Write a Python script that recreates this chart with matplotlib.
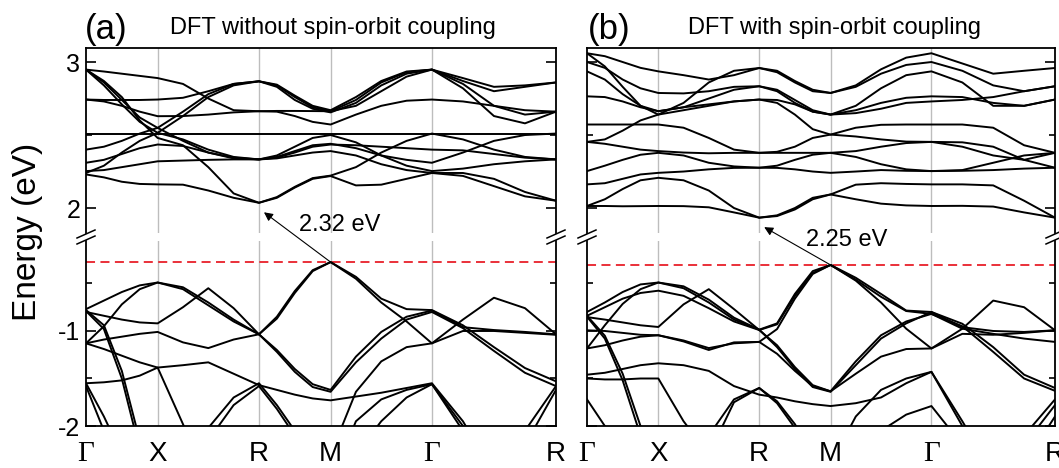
import matplotlib.pyplot as plt
import numpy as np
from matplotlib.patches import ConnectionPatch
from matplotlib.lines import Line2D

plt.rcParams['font.family'] = ['Liberation Sans', 'DejaVu Sans']
plt.rcParams['axes.unicode_minus'] = False

# k-path Gamma-X-R-M-Gamma-R, segment lengths in 2pi/a
k_labels = ['Γ', 'X', 'R', 'M', 'Γ', 'R']
seg_len = [0.5, 0.7071, 0.5, 0.7071, 0.8660]
n_per_seg = 4  # energies below read at 4 steps per segment (21 points per band)

# (a) no SOC, conduction bands (eV)
a_cond = [
    [2.948, 2.935, 2.92, 2.905, 2.89, 2.85, 2.75, 2.67, 2.663, 2.66, 2.63, 2.59, 2.572, 2.64, 2.70, 2.735, 2.743, 2.73, 2.70, 2.67, 2.66],
    [2.743, 2.74, 2.74, 2.74, 2.743, 2.755, 2.80, 2.85, 2.868, 2.84, 2.76, 2.69, 2.663, 2.74, 2.86, 2.93, 2.948, 2.87, 2.80, 2.83, 2.86],
    [2.948, 2.86, 2.74, 2.62, 2.549, 2.66, 2.78, 2.85, 2.868, 2.845, 2.77, 2.70, 2.67, 2.76, 2.87, 2.935, 2.948, 2.89, 2.83, 2.84, 2.86],
    [2.948, 2.84, 2.71, 2.59, 2.515, 2.63, 2.76, 2.84, 2.868, 2.83, 2.74, 2.68, 2.655, 2.72, 2.84, 2.92, 2.948, 2.82, 2.63, 2.58, 2.66],
    [2.743, 2.73, 2.70, 2.66, 2.629, 2.63, 2.64, 2.655, 2.663, 2.665, 2.665, 2.664, 2.663, 2.70, 2.80, 2.90, 2.948, 2.85, 2.70, 2.64, 2.66],
    [2.51, 2.51, 2.51, 2.51, 2.51, 2.51, 2.51, 2.51, 2.51, 2.51, 2.51, 2.51, 2.51, 2.51, 2.51, 2.51, 2.51, 2.51, 2.51, 2.51, 2.51],
    [2.40, 2.42, 2.46, 2.51, 2.549, 2.46, 2.38, 2.34, 2.333, 2.345, 2.38, 2.42, 2.435, 2.43, 2.42, 2.41, 2.40, 2.395, 2.37, 2.345, 2.333],
    [2.31, 2.33, 2.37, 2.41, 2.435, 2.425, 2.38, 2.345, 2.333, 2.34, 2.36, 2.38, 2.39, 2.36, 2.30, 2.26, 2.24, 2.22, 2.15, 2.08, 2.05],
    [2.253, 2.26, 2.28, 2.30, 2.32, 2.325, 2.33, 2.333, 2.333, 2.36, 2.42, 2.48, 2.50, 2.45, 2.36, 2.29, 2.253, 2.27, 2.30, 2.32, 2.333],
    [2.948, 2.87, 2.76, 2.60, 2.48, 2.43, 2.28, 2.10, 2.036, 2.07, 2.14, 2.20, 2.219, 2.155, 2.16, 2.20, 2.24, 2.24, 2.20, 2.11, 2.05],
    [2.23, 2.21, 2.18, 2.165, 2.162, 2.16, 2.12, 2.07, 2.036, 2.075, 2.145, 2.205, 2.222, 2.28, 2.38, 2.46, 2.51, 2.47, 2.40, 2.35, 2.333],
    [2.24, 2.29, 2.38, 2.46, 2.515, 2.47, 2.40, 2.35, 2.333, 2.35, 2.39, 2.43, 2.44, 2.41, 2.36, 2.33, 2.31, 2.38, 2.46, 2.50, 2.51],
]

# (a) no SOC, valence bands (eV)
a_val = [
    [-0.77, -0.68, -0.59, -0.52, -0.49, -0.54, -0.70, -0.88, -1.035, -0.85, -0.58, -0.36, -0.275, -0.43, -0.66, -0.77, -0.78, -0.94, -1.17, -1.39, -1.53],
    [-1.13, -0.95, -0.72, -0.56, -0.49, -0.56, -0.73, -0.90, -1.035, -0.87, -0.60, -0.37, -0.275, -0.45, -0.70, -0.90, -1.13, -0.88, -0.65, -0.76, -1.035],
    [-0.80, -0.84, -0.88, -0.91, -0.92, -0.75, -0.55, -0.76, -1.035, -1.20, -1.40, -1.56, -1.62, -1.27, -1.01, -0.85, -0.785, -0.96, -0.99, -1.01, -1.035],
    [-1.13, -1.09, -1.06, -1.03, -1.01, -1.12, -1.18, -1.09, -1.035, -1.22, -1.43, -1.59, -1.64, -1.33, -1.08, -0.88, -0.80, -0.97, -1.21, -1.44, -1.58],
    [-1.13, -1.19, -1.26, -1.33, -1.385, -1.36, -1.33, -1.45, -1.57, -1.62, -1.67, -1.71, -1.73, -1.69, -1.65, -1.60, -1.55, -1.95, -2.5, -2.05, -1.58],
    [-1.55, -1.54, -1.52, -1.47, -1.385, -1.98, -2.6, -2.8, -2.8, -2.8, -2.7, -2.5, -2.3, -1.64, -1.32, -1.17, -1.13, -1.0, -1.0, -1.02, -1.04],
    [-0.78, -0.94, -1.42, -2.15, -2.9, -2.5, -2.02, -1.70, -1.55, -1.78, -2.05, -2.4, -2.6, -1.95, -1.72, -1.62, -1.56, -2.05, -2.7, -2.2, -1.62],
    [-0.79, -0.98, -1.5, -2.25, -3.0, -2.6, -2.15, -1.78, -1.58, -1.82, -2.1, -2.45, -2.8, -2.3, -1.95, -1.7, -1.56, -2.0, -2.6, -2.8, -2.8],
    [-1.55, -1.9, -2.3, -2.8, -3.0, -3.0, -3.0, -3.0, -3.0, -3.0, -3.0, -3.0, -3.0, -3.0, -3.0, -3.0, -3.0, -3.0, -3.0, -3.0, -3.0],
    [-1.58, -2.05, -2.5, -3.0, -3.0, -3.0, -3.0, -3.0, -3.0, -3.0, -3.0, -3.0, -3.0, -3.0, -3.0, -3.0, -3.0, -3.0, -3.0, -3.0, -3.0],
]

# (b) with SOC, conduction bands (eV)
b_cond = [
    [3.06, 3.04, 3.0, 2.96, 2.936, 2.91, 2.88, 2.91, 2.959, 2.93, 2.86, 2.80, 2.788, 2.84, 2.95, 3.03, 3.06, 2.99, 2.92, 2.94, 2.959],
    [3.0, 2.96, 2.88, 2.82, 2.788, 2.785, 2.80, 2.83, 2.834, 2.80, 2.72, 2.66, 2.64, 2.70, 2.82, 2.91, 2.936, 2.86, 2.70, 2.70, 2.743],
    [2.936, 2.88, 2.78, 2.70, 2.663, 2.69, 2.71, 2.73, 2.743, 2.74, 2.71, 2.66, 2.64, 2.67, 2.72, 2.755, 2.765, 2.76, 2.72, 2.70, 2.743],
    [3.06, 2.97, 2.83, 2.70, 2.64, 2.72, 2.86, 2.94, 2.959, 2.94, 2.87, 2.81, 2.788, 2.83, 2.92, 2.98, 3.0, 2.94, 2.84, 2.80, 2.834],
    [2.765, 2.76, 2.73, 2.69, 2.663, 2.69, 2.75, 2.81, 2.834, 2.81, 2.74, 2.67, 2.64, 2.65, 2.68, 2.72, 2.73, 2.74, 2.76, 2.80, 2.834],
    [2.572, 2.572, 2.572, 2.572, 2.572, 2.55, 2.48, 2.40, 2.378, 2.385, 2.42, 2.48, 2.503, 2.55, 2.57, 2.572, 2.572, 2.572, 2.55, 2.43, 2.378],
    [2.453, 2.47, 2.53, 2.60, 2.64, 2.67, 2.70, 2.73, 2.743, 2.72, 2.64, 2.54, 2.503, 2.49, 2.47, 2.455, 2.453, 2.42, 2.36, 2.33, 2.378],
    [2.453, 2.44, 2.42, 2.40, 2.39, 2.38, 2.375, 2.378, 2.378, 2.378, 2.378, 2.378, 2.378, 2.39, 2.42, 2.445, 2.453, 2.45, 2.42, 2.33, 2.276],
    [2.253, 2.29, 2.33, 2.365, 2.378, 2.36, 2.31, 2.285, 2.276, 2.29, 2.33, 2.365, 2.378, 2.35, 2.30, 2.265, 2.253, 2.26, 2.31, 2.36, 2.378],
    [2.162, 2.17, 2.20, 2.23, 2.241, 2.25, 2.265, 2.275, 2.276, 2.275, 2.265, 2.25, 2.241, 2.25, 2.26, 2.255, 2.253, 2.255, 2.26, 2.27, 2.276],
    [2.014, 2.06, 2.13, 2.19, 2.207, 2.19, 2.12, 2.00, 1.934, 1.95, 2.0, 2.07, 2.093, 2.16, 2.17, 2.165, 2.162, 2.162, 2.155, 2.05, 1.934],
    [2.014, 2.014, 2.012, 2.013, 2.014, 2.013, 2.005, 1.97, 1.934, 1.945, 1.99, 2.06, 2.093, 2.06, 2.03, 2.018, 2.014, 2.015, 2.01, 1.97, 1.934],
]

# (b) with SOC, valence bands (eV)
b_val = [
    [-0.80, -0.70, -0.59, -0.51, -0.49, -0.53, -0.67, -0.86, -0.986, -0.92, -0.61, -0.37, -0.305, -0.44, -0.61, -0.785, -0.80, -0.924, -1.17, -1.46, -1.60],
    [-0.84, -0.75, -0.66, -0.60, -0.576, -0.63, -0.76, -0.90, -0.99, -0.93, -0.63, -0.39, -0.305, -0.46, -0.64, -0.79, -0.82, -0.95, -1.22, -1.50, -1.63],
    [-0.854, -0.88, -0.91, -0.94, -0.958, -0.72, -0.56, -0.77, -0.99, -1.15, -1.38, -1.57, -1.635, -1.32, -1.045, -0.90, -0.82, -0.976, -1.03, -1.08, -1.115],
    [-1.184, -0.94, -0.715, -0.56, -0.49, -0.55, -0.70, -0.88, -0.986, -1.17, -1.40, -1.59, -1.64, -1.36, -1.08, -0.92, -0.80, -0.96, -1.0, -1.01, -0.993],
    [-1.184, -1.15, -1.10, -1.06, -1.045, -1.11, -1.20, -1.12, -1.115, -1.24, -1.42, -1.58, -1.635, -1.45, -1.27, -1.19, -1.184, -0.976, -0.68, -0.75, -0.993],
    [-0.993, -1.0, -1.02, -1.04, -1.045, -1.10, -1.18, -1.13, -1.115, -0.98, -0.66, -0.40, -0.305, -0.47, -0.70, -0.976, -1.184, -1.03, -1.04, -1.02, -0.993],
    [-1.46, -1.44, -1.40, -1.36, -1.34, -1.36, -1.42, -1.58, -1.67, -1.70, -1.74, -1.77, -1.79, -1.76, -1.70, -1.55, -1.43, -1.95, -2.5, -2.1, -1.72],
    [-1.50, -1.51, -1.51, -1.50, -1.50, -1.95, -2.3, -1.75, -1.60, -1.74, -1.98, -2.3, -2.4, -1.9, -1.62, -1.50, -1.43, -2.0, -2.6, -2.2, -1.78],
    [-0.84, -1.05, -1.45, -2.0, -2.6, -2.6, -2.1, -1.72, -1.60, -1.76, -2.02, -2.4, -2.7, -2.4, -2.05, -1.88, -1.79, -2.2, -2.8, -2.4, -1.9],
    [-0.85, -1.08, -1.52, -2.1, -2.7, -3.0, -3.0, -3.0, -3.0, -3.0, -3.0, -3.0, -3.0, -3.0, -3.0, -3.0, -3.0, -3.0, -3.0, -3.0, -3.0],
    [-1.72, -2.0, -2.4, -2.9, -3.0, -3.0, -3.0, -3.0, -3.0, -3.0, -3.0, -3.0, -3.0, -3.0, -3.0, -3.0, -3.0, -3.0, -3.0, -3.0, -3.0],
]

vbm = [-0.275, -0.305]
cbm = [2.036, 1.934]
gap_text = ['2.32 eV', '2.25 eV']
titles = ['DFT without spin-orbit coupling', 'DFT with spin-orbit coupling']
letters = ['(a)', '(b)']

k_nodes = np.concatenate([[0], np.cumsum(seg_len)])
k = np.concatenate([np.linspace(k_nodes[i], k_nodes[i + 1], n_per_seg + 1)[:-1]
                    for i in range(len(seg_len))] + [[k_nodes[-1]]])

W, H = 1059, 468
fig = plt.figure(figsize=(W / 100, H / 100), dpi=100)


def rect(x0, x1, y0, y1):
    return [x0 / W, 1 - y1 / H, (x1 - x0) / W, (y1 - y0) / H]


def break_mark(x, y):
    for dy in (-3, 3):
        fig.add_artist(Line2D([(x - 9) / W, (x + 9) / W],
                              [1 - (y + dy + 4) / H, 1 - (y + dy - 4) / H],
                              color='k', lw=1.1))


panels_x = [(86, 556), (587, 1055)]
conds = [a_cond, b_cond]
vals = [a_val, b_val]
title_x = [333, 835]
letter_x = [106, 609]
gap_pos = [(1.773, 1.884), (1.822, 1.781)]

for p in range(2):
    x0, x1 = panels_x[p]
    ax_t = fig.add_axes(rect(x0, x1, 48, 233))
    ax_b = fig.add_axes(rect(x0, x1, 241, 426))

    for ax in (ax_t, ax_b):
        ax.set_facecolor('none')
        for kn in k_nodes[1:-1]:
            ax.axvline(kn, color='#bdbdbd', lw=1.0, zorder=1)
        ax.set_xlim(k_nodes[0], k_nodes[-1])
        for s in ax.spines.values():
            s.set_linewidth(1.3)
        ax.tick_params(axis='y', which='both', direction='in', left=True, right=True,
                       labelsize=18, pad=4, width=1.2)
        ax.tick_params(axis='y', which='major', length=7)
        ax.tick_params(axis='y', which='minor', length=4)

    for band in conds[p]:
        ax_t.plot(k, band, color='k', lw=1.4, zorder=3)
    for band in vals[p]:
        ax_b.plot(k, band, color='k', lw=1.4, zorder=3)

    ax_t.set_ylim(1.829, 3.096)
    ax_t.set_yticks([2, 3])
    ax_t.set_yticks([2.5], minor=True)
    ax_t.spines['bottom'].set_visible(False)
    ax_t.set_xticks([])

    ax_b.set_ylim(-2.0, -0.053)
    ax_b.set_yticks([-2, -1])
    ax_b.set_yticks([-1.5, -0.5], minor=True)
    ax_b.spines['top'].set_visible(False)
    ax_b.axhline(vbm[p], color='#e8202a', lw=1.3, ls=(0, (5, 3)), zorder=2)
    ax_b.set_xticks(k_nodes)
    ax_b.set_xticklabels(k_labels)
    ax_b.tick_params(axis='x', length=0, pad=11, labelsize=20)
    for lab in ax_b.get_xticklabels():
        if lab.get_text() == 'Γ':
            lab.set_fontfamily('Liberation Serif')
            lab.set_fontsize(21)

    if p == 1:
        ax_t.set_yticklabels([])
        ax_b.set_yticklabels([])

    con = ConnectionPatch(xyA=(k_nodes[3], vbm[p]), coordsA=ax_b.transData,
                          xyB=(k_nodes[2] + 0.035, cbm[p] - 0.065), coordsB=ax_t.transData,
                          arrowstyle='-|>', mutation_scale=13, lw=0.8, color='k', zorder=5)
    fig.add_artist(con)
    fig.text(gap_pos[p][0], gap_pos[p][1], gap_text[p], fontsize=17, ha='center', va='center',
             transform=ax_t.transData, zorder=6)

    fig.text(letter_x[p] / W, 1 - 29 / H, letters[p], fontsize=25, ha='center', va='center')
    fig.text(title_x[p] / W, 1 - 28 / H, titles[p], fontsize=17, ha='center', va='center')

    for xs in (x0, x1):
        break_mark(xs, 237)

fig.text(28 / W, 1 - 232 / H, 'Energy (eV)', fontsize=24, rotation=90, ha='center', va='center')

fig.savefig('out.png', dpi=100)
